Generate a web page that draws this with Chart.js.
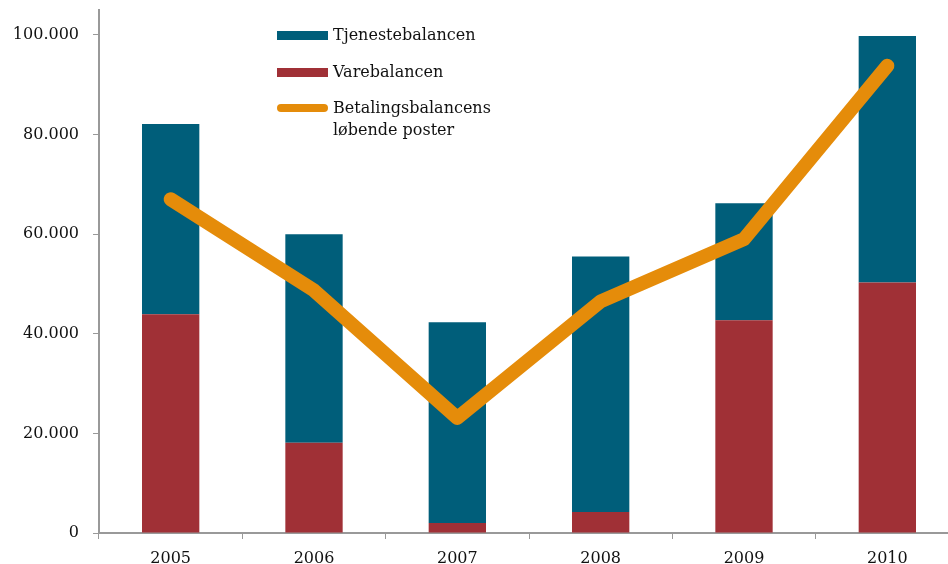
<!DOCTYPE html>
<html>
<head>
<meta charset="utf-8">
<script src="https://cdn.jsdelivr.net/npm/chart.js@4"></script>
<style>
  html, body { margin: 0; padding: 0; overflow: hidden; background: #fff; }
  #chart { position: absolute; left: 0; top: 0; }
  #legend { position: absolute; left: 277px; top: 24px; font-family: "DejaVu Serif", serif; font-size: 16px; color: #111; }
  .row { position: absolute; left: 0; white-space: nowrap; }
  .sw { position: absolute; left: 0; width: 51px; height: 9px; }
  .txt { position: absolute; left: 56px; line-height: 22px; }
</style>
</head>
<body>
<canvas id="chart" width="965" height="580"></canvas>
<div id="legend">
  <div class="row" style="top:0"><div class="sw" style="top:7px;background:#005e7a"></div><div class="txt" style="top:0">Tjenestebalancen</div></div>
  <div class="row" style="top:37px"><div class="sw" style="top:7px;background:#a03036"></div><div class="txt" style="top:0">Varebalancen</div></div>
  <div class="row" style="top:73px"><div class="sw" style="top:7px;height:8px;border-radius:4px;background:#e58c0a"></div><div class="txt" style="top:0">Betalingsbalancens<br>løbende poster</div></div>
</div>
<script>
// Aar og tal (mio. kr.)
const years = ['2005', '2006', '2007', '2008', '2009', '2010'];
const varebalancen = [43900, 18100, 2000, 4200, 42700, 50300];
const tjenestebalancen = [38200, 41900, 40300, 51300, 23500, 49500];
const loebendePoster = [67000, 48700, 23100, 46500, 59000, 93800];
const yTicks = [0, 20000, 40000, 60000, 80000, 100000];

const serif = '"DejaVu Serif", serif';

function fmt(v) {
  return v.toLocaleString('de-DE');
}

const ctx = document.getElementById('chart').getContext('2d');
new Chart(ctx, {
  type: 'bar',
  data: {
    labels: years,
    datasets: [
      {
        type: 'line',
        label: 'Betalingsbalancens løbende poster',
        data: loebendePoster,
        borderColor: '#e58c0a',
        borderWidth: 14,
        borderCapStyle: 'round',
        borderJoinStyle: 'round',
        pointRadius: 0,
        tension: 0,
        stack: 'line',
        order: 0
      },
      {
        label: 'Varebalancen',
        data: varebalancen,
        backgroundColor: '#a03036',
        stack: 'bars',
        order: 1
      },
      {
        label: 'Tjenestebalancen',
        data: tjenestebalancen,
        backgroundColor: '#005e7a',
        stack: 'bars',
        order: 1
      }
    ]
  },
  options: {
    responsive: false,
    animation: false,
    layout: { padding: { left: 0, right: 6, top: 10, bottom: 0 } },
    datasets: {
      bar: { barPercentage: 0.4, categoryPercentage: 1 }
    },
    plugins: {
      legend: { display: false },
      tooltip: { enabled: false }
    },
    scales: {
      x: {
        stacked: true,
        grid: { drawOnChartArea: false, drawTicks: true, tickLength: 6, color: '#999', offset: true },
        border: { color: '#999', width: 2 },
        ticks: { font: { family: serif, size: 16 }, color: '#111', padding: 10 },
        afterFit: (s) => { s.height = 47; }
      },
      y: {
        stacked: true,
        min: 0,
        max: 105000,
        grid: { drawOnChartArea: false, drawTicks: true, tickLength: 6, color: '#999' },
        border: { color: '#999', width: 2 },
        ticks: {
          font: { family: serif, size: 16 },
          color: '#111',
          padding: 14,
          callback: (v) => fmt(v)
        },
        afterBuildTicks: (s) => { s.ticks = yTicks.map((v) => ({ value: v })); },
        afterFit: (s) => { s.width = 99; s.paddingTop = 0; s.paddingBottom = 0; }
      }
    }
  }
});
</script>
</body>
</html>
